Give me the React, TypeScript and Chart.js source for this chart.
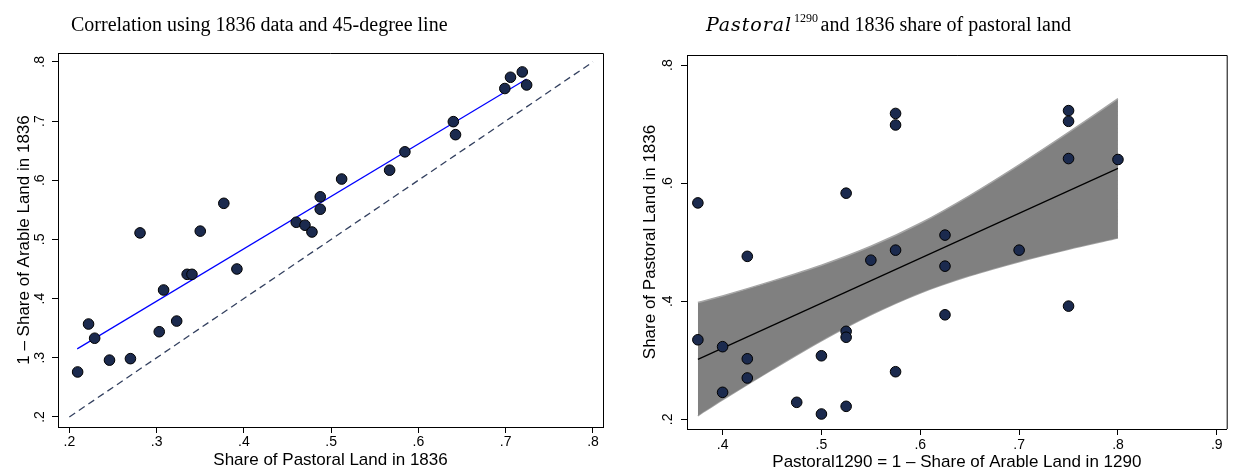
import React, { useEffect, useRef } from 'react';
import { Chart, registerables } from 'chart.js';
Chart.register(...registerables);

// ---------- Left panel: 1836 data and 45-degree line ----------
const leftX = [0.2095, 0.222, 0.229, 0.246, 0.27, 0.303, 0.308, 0.323, 0.335, 0.3405, 0.392, 0.281, 0.35, 0.377, 0.46, 0.47, 0.478, 0.4875, 0.4875, 0.512, 0.567, 0.5845, 0.64, 0.6425, 0.699, 0.7055, 0.719, 0.724];
const leftY = [0.276, 0.357, 0.333, 0.296, 0.2985, 0.344, 0.4145, 0.362, 0.441, 0.441, 0.45, 0.511, 0.514, 0.561, 0.529, 0.524, 0.5125, 0.572, 0.551, 0.602, 0.617, 0.648, 0.699, 0.677, 0.755, 0.774, 0.783, 0.761];
const leftFitX = [0.209, 0.724];
const leftFitY = [0.315, 0.771];
const diagX = [0.2, 0.8];
const diagY = [0.2, 0.8];
const leftXTicks = [0.2, 0.3, 0.4, 0.5, 0.6, 0.7, 0.8];
const leftYTicks = [0.2, 0.3, 0.4, 0.5, 0.6, 0.7, 0.8];

// ---------- Right panel: Pastoral1290 vs 1836 ----------
const rightX = [0.375, 0.525, 0.575, 0.575, 0.625, 0.425, 0.55, 0.575, 0.625, 0.625, 0.375, 0.4, 0.425, 0.425, 0.4, 0.475, 0.5, 0.5, 0.525, 0.525, 0.525, 0.575, 0.75, 0.75, 0.75, 0.8, 0.7, 0.75];
const rightY = [0.5665, 0.583, 0.718, 0.6985, 0.512, 0.476, 0.4695, 0.4865, 0.4594, 0.377, 0.3347, 0.323, 0.3025, 0.27, 0.2457, 0.2288, 0.3076, 0.209, 0.349, 0.339, 0.222, 0.2806, 0.7228, 0.7047, 0.6416, 0.64, 0.4865, 0.3917];
const rightFitX = [0.375, 0.8];
const rightFitY = [0.3015, 0.625];
const bandX = [0.375, 0.4, 0.45, 0.5, 0.55, 0.6, 0.65, 0.7, 0.75, 0.8];
const bandUpper = [0.398, 0.409, 0.434, 0.461, 0.493, 0.532, 0.579, 0.631, 0.686, 0.743];
const bandLower = [0.206, 0.233, 0.284, 0.333, 0.377, 0.414, 0.443, 0.467, 0.488, 0.507];
const rightXTicks = [0.4, 0.5, 0.6, 0.7, 0.8, 0.9];
const rightYTicks = [0.2, 0.4, 0.6, 0.8];

const SANS = "'Liberation Sans', Arial, sans-serif";
const SERIF = "'Liberation Serif', 'Times New Roman', serif";
const MATH = "'DejaVu Serif', serif";
const NAVY = '#1b2a4e';

const fmt = (v: number) => Number(v).toFixed(1).replace(/^0/, '');
const pts = (xs: number[], ys: number[]) => xs.map((x, i) => ({ x, y: ys[i] }));

type Panel = {
  xMin: number; xMax: number; yMin: number; yMax: number;
  xTicks: number[]; yTicks: number[];
  xTitle: string; yTitle: string;
  yAxisWidth: number; xAxisHeight: number;
  padTop: number; padRight: number;
  yLabelX: number; yTitlePad: number; xTickPad: number; xTitlePad: number;
  drawTitle: (ctx: CanvasRenderingContext2D) => void;
};

function makePlugin(p: Panel) {
  return {
    id: 'panelExtras',
    afterDraw(chart: any) {
      const ctx: CanvasRenderingContext2D = chart.ctx;
      const ys = chart.scales.y;
      const a = chart.chartArea;
      ctx.save();
      // rotated y tick labels
      ctx.font = `14px ${SANS}`;
      ctx.fillStyle = '#000';
      ctx.textAlign = 'center';
      ctx.textBaseline = 'middle';
      ys.ticks.forEach((t: any) => {
        const py = ys.getPixelForValue(t.value);
        ctx.save();
        ctx.translate(p.yLabelX, py);
        ctx.rotate(-Math.PI / 2);
        ctx.fillText(fmt(t.value), 0, 0);
        ctx.restore();
      });
      // plot box (top & right)
      ctx.strokeStyle = '#000';
      ctx.lineWidth = 1;
      ctx.beginPath();
      ctx.moveTo(a.left, a.top + 0.5);
      ctx.lineTo(a.right + 0.5, a.top + 0.5);
      ctx.lineTo(a.right + 0.5, a.bottom);
      ctx.stroke();
      // title
      ctx.textAlign = 'left';
      ctx.textBaseline = 'alphabetic';
      p.drawTitle(ctx);
      ctx.restore();
    },
  };
}

function makeConfig(p: Panel, datasets: any[]): any {
  const grid = { display: true, drawOnChartArea: false, drawTicks: true, tickLength: 6, color: '#000', lineWidth: 1 };
  const border = { display: true, color: '#000', width: 1 };
  return {
    type: 'scatter',
    data: { datasets },
    options: {
      responsive: false,
      animation: false,
      events: [],
      layout: { padding: { left: 0, top: p.padTop, right: p.padRight, bottom: 0 } },
      plugins: { legend: { display: false }, tooltip: { enabled: false }, title: { display: false } },
      scales: {
        x: {
          type: 'linear',
          position: 'bottom',
          min: p.xMin,
          max: p.xMax,
          afterBuildTicks: (s: any) => { s.ticks = p.xTicks.map((v) => ({ value: v })); },
          afterFit: (s: any) => { s.height = p.xAxisHeight; },
          ticks: {
            callback: (v: any) => fmt(v),
            font: { family: SANS, size: 14 },
            color: '#000',
            padding: p.xTickPad,
            minRotation: 0,
            maxRotation: 0,
            autoSkip: false,
          },
          grid,
          border,
          title: {
            display: true,
            text: p.xTitle,
            color: '#000',
            font: { family: SANS, size: 17, lineHeight: 1 },
            padding: { top: 0, bottom: p.xTitlePad },
          },
        },
        y: {
          type: 'linear',
          position: 'left',
          min: p.yMin,
          max: p.yMax,
          afterBuildTicks: (s: any) => { s.ticks = p.yTicks.map((v) => ({ value: v })); },
          afterFit: (s: any) => { s.width = p.yAxisWidth; },
          ticks: { display: false },
          grid,
          border,
          title: {
            display: true,
            text: p.yTitle,
            color: '#000',
            font: { family: SANS, size: 17, lineHeight: 1 },
            padding: { top: p.yTitlePad, bottom: 0 },
          },
        },
      },
    },
    plugins: [makePlugin(p)],
  };
}

const pointStyle = {
  pointRadius: 5.3,
  pointBackgroundColor: NAVY,
  pointBorderColor: '#000',
  pointBorderWidth: 1,
  showLine: false,
};

function leftConfig() {
  const panel: Panel = {
    xMin: 0.187, xMax: 0.8115, yMin: 0.183, yMax: 0.815,
    xTicks: leftXTicks, yTicks: leftYTicks,
    xTitle: 'Share of Pastoral Land in 1836',
    yTitle: '1 – Share of Arable Land in 1836',
    yAxisWidth: 58, xAxisHeight: 42, padTop: 53, padRight: 13,
    yLabelX: 40, yTitlePad: 15.5, xTickPad: 1, xTitlePad: 0.5,
    drawTitle: (ctx) => {
      ctx.font = `20px ${SERIF}`;
      ctx.fillStyle = '#000';
      ctx.fillText('Correlation using 1836 data and 45-degree line', 71, 30.5);
    },
  };
  const datasets = [
    { type: 'scatter', data: pts(leftX, leftY), ...pointStyle },
    { type: 'line', data: pts(leftFitX, leftFitY), borderColor: '#0000ff', borderWidth: 1.2, pointRadius: 0, fill: false },
    { type: 'line', data: pts(diagX, diagY), borderColor: '#33405f', borderWidth: 1.3, borderDash: [7, 4.5], pointRadius: 0, fill: false },
  ];
  return makeConfig(panel, datasets);
}

function rightConfig() {
  const panel: Panel = {
    xMin: 0.364, xMax: 0.91, yMin: 0.1836, yMax: 0.817,
    xTicks: rightXTicks, yTicks: rightYTicks,
    xTitle: 'Pastoral1290 = 1 – Share of Arable Land in 1290',
    yTitle: 'Share of Pastoral Land in 1836',
    yAxisWidth: 71, xAxisHeight: 40, padTop: 55, padRight: 1,
    yLabelX: 52, yTitlePad: 25.5, xTickPad: 2, xTitlePad: -1.5,
    drawTitle: (ctx) => {
      ctx.fillStyle = '#000';
      ctx.font = `italic 19px ${MATH}`;
      const w = ctx.measureText('Pastoral').width;
      const ls = Math.max(-1, Math.min(2, (86 - w) / 8));
      (ctx as any).letterSpacing = `${ls}px`;
      ctx.fillText('Pastoral', 90, 30.5);
      (ctx as any).letterSpacing = '0px';
      ctx.font = `12px ${SERIF}`;
      ctx.fillText('1290', 178, 22);
      ctx.font = `20px ${SERIF}`;
      ctx.fillText('and 1836 share of pastoral land', 204.5, 30.5);
    },
  };
  const datasets = [
    { type: 'scatter', data: pts(rightX, rightY), ...pointStyle },
    { type: 'line', data: pts(rightFitX, rightFitY), borderColor: '#000', borderWidth: 1.2, pointRadius: 0, fill: false },
    { type: 'line', data: pts(bandX, bandUpper), borderColor: '#a6a6a6', borderWidth: 1.5, backgroundColor: '#808080', pointRadius: 0, tension: 0.3, fill: '+1' },
    { type: 'line', data: pts(bandX, bandLower), borderColor: '#a6a6a6', borderWidth: 1.5, pointRadius: 0, tension: 0.3, fill: false },
  ];
  return makeConfig(panel, datasets);
}

export default function App() {
  const leftRef = useRef<HTMLCanvasElement>(null);
  const rightRef = useRef<HTMLCanvasElement>(null);
  useEffect(() => {
    const c1 = new Chart(leftRef.current as HTMLCanvasElement, leftConfig());
    const c2 = new Chart(rightRef.current as HTMLCanvasElement, rightConfig());
    return () => {
      c1.destroy();
      c2.destroy();
    };
  }, []);
  return (
    <div style={{ position: 'fixed', left: 0, top: 0, width: 1233, height: 469, background: '#fff' }}>
      <canvas ref={leftRef} width={616} height={469} style={{ position: 'absolute', left: 0, top: 0 }} />
      <canvas ref={rightRef} width={617} height={469} style={{ position: 'absolute', left: 616, top: 0 }} />
    </div>
  );
}
